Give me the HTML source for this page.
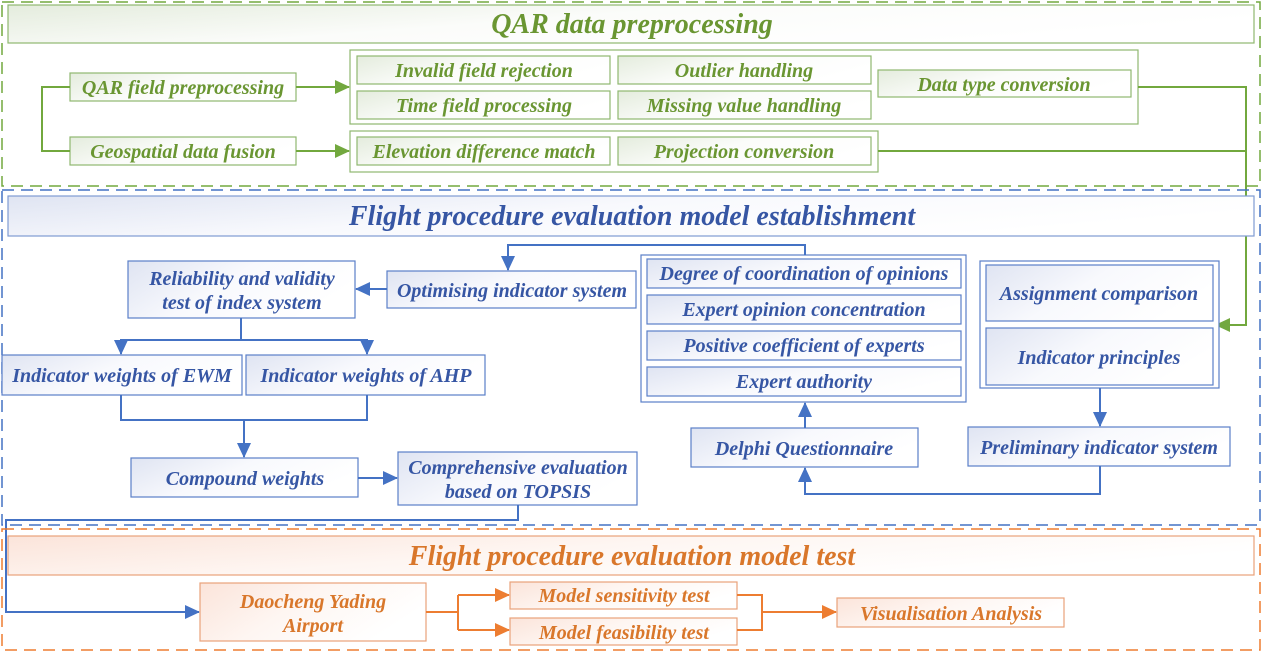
<!DOCTYPE html>
<html><head><meta charset="utf-8"><style>
html,body{margin:0;padding:0;background:#fff;}
svg{display:block;}
text{font-family:"Liberation Serif",serif;font-weight:bold;font-style:italic;text-anchor:middle;}
.g{fill:#6a9632;} .b{fill:#3656a4;} .o{fill:#d9772b;}
</style></head><body>
<svg width="1263" height="654" viewBox="0 0 1263 654" xmlns="http://www.w3.org/2000/svg">
<defs>
<linearGradient id="gg" x1="0" y1="0" x2="1" y2="0.4"><stop offset="0" stop-color="#e4ecdd"/><stop offset="0.5" stop-color="#fbfcfa"/><stop offset="1" stop-color="#ffffff"/></linearGradient>
<linearGradient id="bg" x1="0" y1="0" x2="1" y2="0.4"><stop offset="0" stop-color="#dfe4f2"/><stop offset="0.5" stop-color="#f8f9fd"/><stop offset="1" stop-color="#ffffff"/></linearGradient>
<linearGradient id="og" x1="0" y1="0" x2="1" y2="0.4"><stop offset="0" stop-color="#fbe4da"/><stop offset="0.5" stop-color="#fef6f2"/><stop offset="1" stop-color="#ffffff"/></linearGradient>
<marker id="ag" markerWidth="15" markerHeight="14" refX="14" refY="7" orient="auto" markerUnits="userSpaceOnUse"><path d="M0,0 L15,7 L0,14z" fill="#72a83e"/></marker>
<marker id="ab" markerWidth="15" markerHeight="14" refX="14" refY="7" orient="auto" markerUnits="userSpaceOnUse"><path d="M0,0 L15,7 L0,14z" fill="#4472c4"/></marker>
<marker id="ao" markerWidth="15" markerHeight="14" refX="14" refY="7" orient="auto" markerUnits="userSpaceOnUse"><path d="M0,0 L15,7 L0,14z" fill="#ed7d31"/></marker>
</defs>

<!-- GREEN SECTION -->
<rect x="2" y="2" width="1258" height="184" fill="none" stroke="#72a83e" stroke-width="1.5" stroke-dasharray="12,7"/>
<rect x="8" y="5" width="1246" height="38" fill="url(#gg)" stroke="#8fb870" stroke-width="1.2"/>
<text x="632" y="33" font-size="28" class="g">QAR data preprocessing</text>

<g stroke="#8fb870" stroke-width="1.2">
<rect x="70" y="73" width="226" height="28" fill="url(#gg)"/>
<rect x="70" y="137" width="226" height="28" fill="url(#gg)"/>
<rect x="350" y="50" width="788" height="74" fill="#fff"/>
<rect x="357" y="56" width="253" height="28" fill="url(#gg)"/>
<rect x="618" y="56" width="253" height="28" fill="url(#gg)"/>
<rect x="357" y="91" width="253" height="28" fill="url(#gg)"/>
<rect x="618" y="91" width="253" height="28" fill="url(#gg)"/>
<rect x="878" y="70" width="253" height="27" fill="url(#gg)"/>
<rect x="350" y="131" width="528" height="41" fill="#fff"/>
<rect x="357" y="137" width="253" height="28" fill="url(#gg)"/>
<rect x="618" y="137" width="253" height="28" fill="url(#gg)"/>
</g>
<g font-size="20" class="g">
<text x="183" y="94">QAR field preprocessing</text>
<text x="183" y="158">Geospatial data fusion</text>
<text x="484" y="77">Invalid field rejection</text>
<text x="744" y="77">Outlier handling</text>
<text x="484" y="112">Time field processing</text>
<text x="744" y="112">Missing value handling</text>
<text x="1004" y="91">Data type conversion</text>
<text x="484" y="158">Elevation difference match</text>
<text x="744" y="158">Projection conversion</text>
</g>
<g stroke="#72a83e" stroke-width="2" fill="none">
<path d="M70,87 H42 V151 H70"/>
<path d="M296,87 H349" marker-end="url(#ag)"/>
<path d="M296,151 H349" marker-end="url(#ag)"/>
<path d="M1138,87 H1246 V325 H1216" marker-end="url(#ag)"/>
<path d="M878,151 H1246"/>
</g>

<!-- BLUE SECTION -->
<rect x="2" y="190" width="1258" height="335" fill="none" stroke="#4472c4" stroke-width="1.5" stroke-dasharray="12,7"/>
<rect x="8" y="196" width="1246" height="40" fill="url(#bg)" stroke="#7f9bd3" stroke-width="1.2"/>
<text x="632" y="225" font-size="28" class="b">Flight procedure evaluation model establishment</text>

<g stroke="#5a7fc8" stroke-width="1.2">
<rect x="128" y="261" width="227" height="57" fill="url(#bg)"/>
<rect x="387" y="271" width="249" height="37" fill="url(#bg)"/>
<rect x="2" y="355" width="240" height="40" fill="url(#bg)"/>
<rect x="246" y="355" width="239" height="40" fill="url(#bg)"/>
<rect x="131" y="458" width="227" height="39" fill="url(#bg)"/>
<rect x="398" y="452" width="239" height="53" fill="url(#bg)"/>
<rect x="641" y="255" width="325" height="147" fill="#fff"/>
<rect x="647" y="259" width="314" height="29" fill="url(#bg)"/>
<rect x="647" y="295" width="314" height="29" fill="url(#bg)"/>
<rect x="647" y="331" width="314" height="29" fill="url(#bg)"/>
<rect x="647" y="367" width="314" height="29" fill="url(#bg)"/>
<rect x="691" y="428" width="227" height="39" fill="url(#bg)"/>
<rect x="980" y="261" width="239" height="127" fill="#fff"/>
<rect x="986" y="265" width="227" height="56" fill="url(#bg)"/>
<rect x="986" y="328" width="227" height="57" fill="url(#bg)"/>
<rect x="968" y="427" width="262" height="39" fill="url(#bg)"/>
</g>
<g font-size="20" class="b">
<text x="242" y="285">Reliability and validity</text>
<text x="242" y="309">test of index system</text>
<text x="512" y="297">Optimising indicator system</text>
<text x="122" y="382">Indicator weights of EWM</text>
<text x="366" y="382">Indicator weights of  AHP</text>
<text x="245" y="485">Compound weights</text>
<text x="518" y="474">Comprehensive evaluation</text>
<text x="518" y="498">based on TOPSIS</text>
<text x="804" y="280">Degree of coordination of opinions</text>
<text x="804" y="316">Expert opinion concentration</text>
<text x="804" y="352">Positive coefficient of experts</text>
<text x="804" y="388">Expert authority</text>
<text x="804" y="455">Delphi Questionnaire</text>
<text x="1099" y="300">Assignment comparison</text>
<text x="1099" y="364">Indicator principles</text>
<text x="1099" y="454">Preliminary indicator system</text>
</g>
<g stroke="#4472c4" stroke-width="2" fill="none">
<path d="M805,255 V245 H508 V270" marker-end="url(#ab)"/>
<path d="M387,289 H356" marker-end="url(#ab)"/>
<path d="M241,318 V340 H121 V354" marker-end="url(#ab)"/>
<path d="M241,340 H367 V354" marker-end="url(#ab)"/>
<path d="M121,395 V420 H367 V395"/>
<path d="M244,420 V457" marker-end="url(#ab)"/>
<path d="M358,478 H397" marker-end="url(#ab)"/>
<path d="M518,505 V520 H6 V612 H199" marker-end="url(#ab)"/>
<path d="M805,428 V403" marker-end="url(#ab)"/>
<path d="M1100,388 V426" marker-end="url(#ab)"/>
<path d="M1100,466 V494 H805 V468" marker-end="url(#ab)"/>
</g>

<!-- ORANGE SECTION -->
<rect x="2" y="529" width="1258" height="121" fill="none" stroke="#ed7d31" stroke-width="1.5" stroke-dasharray="12,7"/>
<rect x="8" y="536" width="1246" height="39" fill="url(#og)" stroke="#e9a27a" stroke-width="1.2"/>
<text x="632" y="565" font-size="28" class="o">Flight procedure evaluation model test</text>
<g stroke="#e9a27a" stroke-width="1.2">
<rect x="200" y="583" width="226" height="58" fill="url(#og)"/>
<rect x="510" y="582" width="227" height="27" fill="url(#og)"/>
<rect x="510" y="618" width="227" height="27" fill="url(#og)"/>
<rect x="837" y="598" width="227" height="29" fill="url(#og)"/>
</g>
<g font-size="20" class="o">
<text x="313" y="608">Daocheng Yading</text>
<text x="313" y="632">Airport</text>
<text x="624" y="602">Model sensitivity test</text>
<text x="624" y="639">Model feasibility test</text>
<text x="951" y="620">Visualisation Analysis</text>
</g>
<g stroke="#ed7d31" stroke-width="2" fill="none">
<path d="M426,612 H458"/>
<path d="M458,595 V630"/>
<path d="M458,595 H509" marker-end="url(#ao)"/>
<path d="M458,630 H509" marker-end="url(#ao)"/>
<path d="M737,595 H762 V630 H737"/>
<path d="M762,612 H836" marker-end="url(#ao)"/>
</g>
</svg>
</body></html>
